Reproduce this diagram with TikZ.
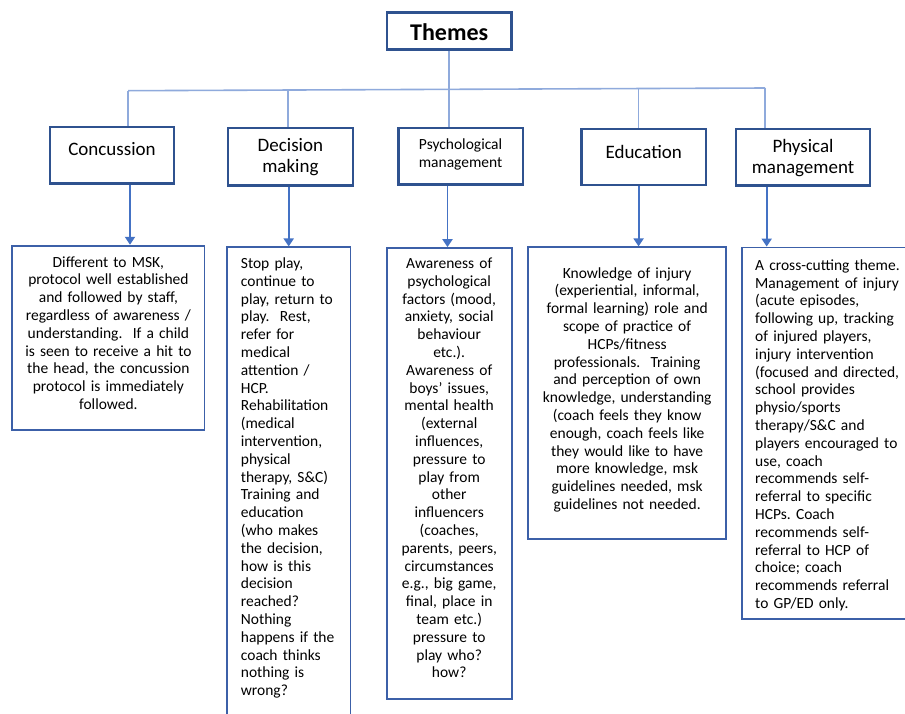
\documentclass[tikz,border=0pt]{standalone}
\usepackage{fontspec}
\setmainfont{Carlito}
\usetikzlibrary{arrows.meta}
\definecolor{hdrline}{RGB}{47,82,143}
\definecolor{boxline}{RGB}{60,96,168}
\definecolor{treeline}{RGB}{143,170,220}
\definecolor{arrline}{RGB}{68,114,196}
\tikzset{
  hdrbox/.style={draw=hdrline, line width=2.2pt, fill=white, inner sep=0pt},
  detbox/.style={draw=boxline, line width=1.8pt, fill=white, inner sep=0pt},
  hdrtext/.style={inner sep=0pt, text width=125pt, align=center, font=\fontsize{19}{21.7}\selectfont},
  smalltext/.style={inner sep=0pt, text width=125pt, align=center, font=\fontsize{15.5}{18}\selectfont},
  dettext/.style={inner sep=0pt, font=\fontsize{15.5}{17.8}\selectfont},
  tree/.style={draw=treeline, line width=1.6pt},
  arr/.style={draw=arrline, line width=1.9pt, -{Triangle[width=10pt,length=8pt]}},
}
\frenchspacing
\begin{document}
\begin{tikzpicture}[x=1pt,y=-1pt]
\useasboundingbox (0,0) rectangle (905,713);
\clip (0,0) rectangle (905,713);
\fill[white] (0,0) rectangle (905,713);

% header boxes
\node[hdrbox, minimum width=124.5pt, minimum height=37pt] (themes) at (449.2,30.9) {};
\node[hdrbox, minimum width=124.7pt, minimum height=56.5pt] (con) at (112,155.2) {};
\node[hdrbox, minimum width=124.8pt, minimum height=57.5pt] (dec) at (290.4,156.7) {};
\node[hdrbox, minimum width=124.6pt, minimum height=56.5pt] (psy) at (460.7,156.2) {};
\node[hdrbox, minimum width=124.6pt, minimum height=56pt] (edu) at (643.7,157) {};
\node[hdrbox, minimum width=134pt, minimum height=56.5pt] (phy) at (803,157.2) {};

% header labels
\node[inner sep=0pt, anchor=base, font=\fontsize{24}{28}\selectfont\bfseries] (themesl) at (449.2,40) {Themes};
\node[hdrtext, anchor=base] (conl) at (112,155) {Concussion};
\node[hdrtext, anchor=base] (decl) at (290.4,151) {Decision\\making};
\node[smalltext, anchor=base] (psyl) at (460.6,149.3) {Psychological\\management};
\node[hdrtext, anchor=base] (edul) at (643.7,158) {Education};
\node[hdrtext, anchor=base] (phyl) at (803,152) {Physical\\management};

% tree connectors
\coordinate (b1) at (128.2,90.7);
\coordinate (b2) at (288,90.0);
\coordinate (b3) at (449.2,89.3);
\coordinate (b4) at (638.6,88.5);
\coordinate (b5) at (765,88);
\draw[tree] (themes.south) -- (b3);
\draw[tree] (b1) -- (b5);
\draw[tree] (b1) -- (b1 |- con.north);
\draw[tree] (b2) -- (b2 |- dec.north);
\draw[tree] (b3) -- (b3 |- psy.north);
\draw[tree] (b4) -- (b4 |- edu.north);
\draw[tree] (b5) -- (b5 |- phy.north);

% detail boxes
\node[detbox, minimum width=192.2pt, minimum height=184.3pt] (dcon) at (108.4,337.85) {};
\node[detbox, minimum width=123.8pt, minimum height=483pt] (ddec) at (288.6,488.8) {};
\node[detbox, minimum width=125pt, minimum height=451pt] (dpsy) at (449.2,473.5) {};
\node[detbox, minimum width=197.7pt, minimum height=291.7pt] (dedu) at (627.15,393.15) {};
\node[detbox, minimum width=183.3pt, minimum height=371.5pt] (dphy) at (833.35,433.25) {};

% arrows
\coordinate (a1) at (130,0);
\coordinate (a2) at (288.7,0);
\coordinate (a3) at (447.5,0);
\coordinate (a4) at (638.6,0);
\coordinate (a5) at (766.7,0);
\draw[arr] (a1 |- con.south) -- (a1 |- dcon.north);
\draw[arr] (a2 |- dec.south) -- (a2 |- ddec.north);
\draw[arr] (a3 |- psy.south) -- (a3 |- dpsy.north);
\draw[arr] (a4 |- edu.south) -- (a4 |- dedu.north);
\draw[arr] (a5 |- phy.south) -- (a5 |- dphy.north);

% detail texts
\node[dettext, text width=190pt, align=center, anchor=base] (tcon) at (108.4,267) {Different to MSK,\\protocol well established\\and followed by staff,\\regardless of awareness /\\understanding.\ \ If a child\\is seen to receive a hit to\\the head, the concussion\\protocol is immediately\\followed.};
\node[dettext, text width=110pt, align=left, anchor=base west] (tdec) at (240.7,268.5) {Stop play,\\continue to\\play, return to\\play.\ \ Rest,\\refer for\\medical\\attention /\\HCP.\\Rehabilitation\\(medical\\intervention,\\physical\\therapy, S\&C)\\Training and\\education\\(who makes\\the decision,\\how is this\\decision\\reached?\\Nothing\\happens if the\\coach thinks\\nothing is\\wrong?};
\node[dettext, text width=122pt, align=center, anchor=base] (tpsy) at (449.2,268.5) {Awareness of\\psychological\\factors (mood,\\anxiety, social\\behaviour\\etc.).\\Awareness of\\boys’ issues,\\mental health\\(external\\influences,\\pressure to\\play from\\other\\influencers\\(coaches,\\parents, peers,\\circumstances\\e.g., big game,\\final, place in\\team etc.)\\pressure to\\play who?\\how?};
\node[dettext, text width=192pt, align=center, anchor=base] (tedu) at (627.15,278) {Knowledge of injury\\(experiential, informal,\\formal learning) role and\\scope of practice of\\HCPs/fitness\\professionals.\ \ Training\\and perception of own\\knowledge, understanding\\(coach feels they know\\enough, coach feels like\\they would like to have\\more knowledge, msk\\guidelines needed, msk\\guidelines not needed.};
\node[dettext, text width=150pt, align=left, anchor=base west] (tphy) at (755,270.3) {A cross-cutting theme.\\Management of injury\\(acute episodes,\\following up, tracking\\of injured players,\\injury intervention\\(focused and directed,\\school provides\\physio/sports\\therapy/S\&C and\\players encouraged to\\use, coach\\recommends self-\\referral to specific\\HCPs. Coach\\recommends self-\\referral to HCP of\\choice; coach\\recommends referral\\to GP/ED only.};
\end{tikzpicture}
\end{document}
